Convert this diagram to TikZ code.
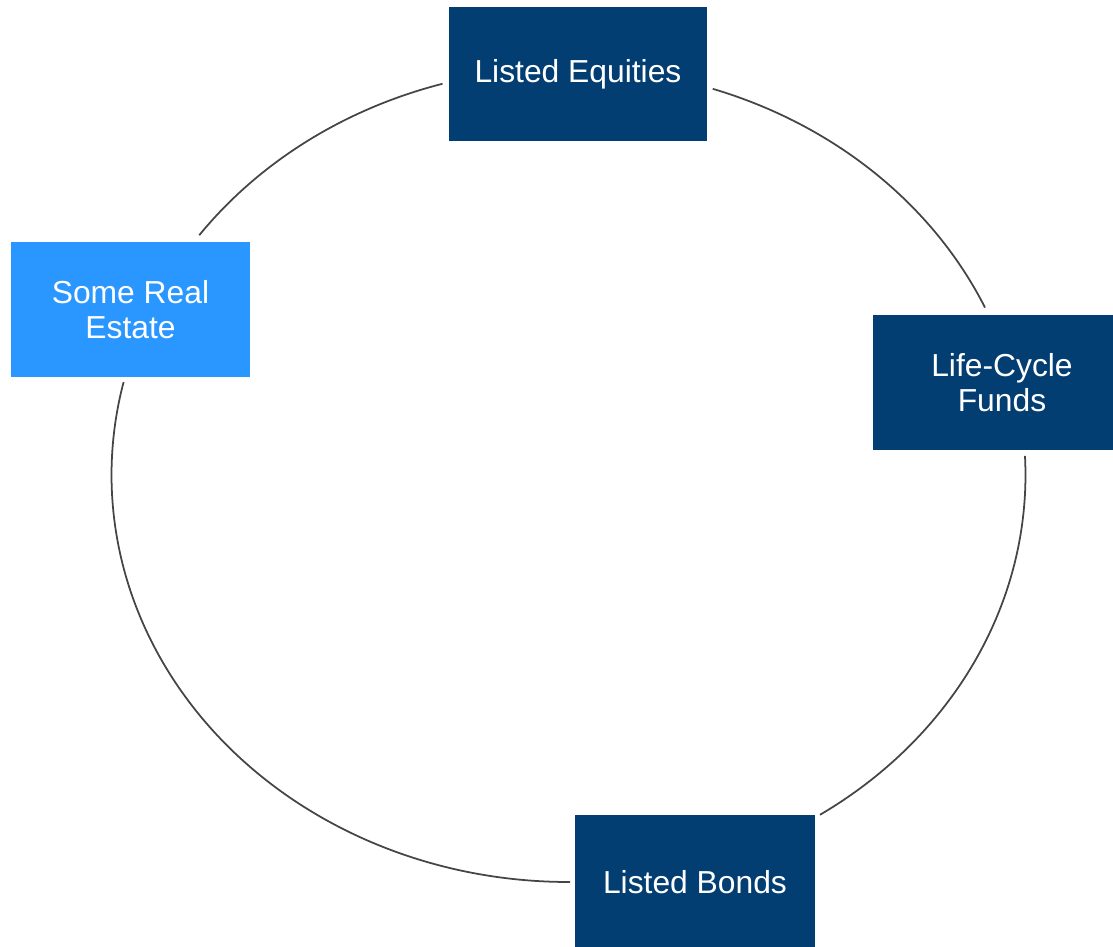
\documentclass[tikz,border=0pt]{standalone}
\usepackage{fontspec}
\setmainfont{Liberation Sans}
\usepackage{tikz}
\pgfdeclarelayer{edgelayer}
\pgfdeclarelayer{nodelayer}
\pgfsetlayers{edgelayer,nodelayer,main}
\definecolor{navy}{HTML}{033E73}
\definecolor{skyblue}{HTML}{2997FF}
\definecolor{ringgray}{HTML}{454545}
\tikzstyle{box}=[rectangle, text=white, align=center, minimum height=1.35cm, inner sep=0pt, font=\fontsize{9.05}{9.95}\selectfont]
\tikzstyle{darkbox}=[box, fill=navy]
\tikzstyle{lightbox}=[box, fill=skyblue]
\tikzstyle{ring}=[draw=ringgray, line width=0.5pt]

\begin{document}
\begin{tikzpicture}
	\clip (0, 0) rectangle (11.13, -9.47);
	\coordinate (c) at (5.685, -4.75);
	\begin{pgfonlayer}{nodelayer}
		\node [style=darkbox, minimum width=2.58cm, minimum height=1.34cm] (1) at (5.78, -0.74) {Listed Equities};
		\node [style=darkbox, minimum width=2.58cm] (2) at (10.02, -3.825) {Life-Cycle\\Funds};
		\node [style=darkbox, minimum width=2.40cm] (3) at (6.95, -8.825) {Listed Bonds};
		\node [style=lightbox, minimum width=2.39cm] (4) at (1.305, -3.095) {Some Real\\Estate};
	\end{pgfonlayer}
	\begin{pgfonlayer}{edgelayer}
		% ends of the ring pieces between the boxes
		\coordinate (a1) at ([shift={(143.9:4.57cm and 4.07cm)}]c);
		\coordinate (a2) at ([shift={(71.6:4.57cm and 4.07cm)}]c);
		\coordinate (a3) at ([shift={(2.7:4.57cm and 4.07cm)}]c);
		\coordinate (a4) at ([shift={(-89.8:4.57cm and 4.07cm)}]c);
		\draw [style=ring] (a1) arc [start angle=143.9, end angle=106, x radius=4.57cm, y radius=4.07cm];
		\draw [style=ring] (a2) arc [start angle=71.6, end angle=24.3, x radius=4.57cm, y radius=4.07cm];
		\draw [style=ring] (a3) arc [start angle=2.7, end angle=-56.6, x radius=4.57cm, y radius=4.07cm];
		\draw [style=ring] (a4) arc [start angle=-89.8, end angle=-193.2, x radius=4.57cm, y radius=4.07cm];
	\end{pgfonlayer}
\end{tikzpicture}
\end{document}
